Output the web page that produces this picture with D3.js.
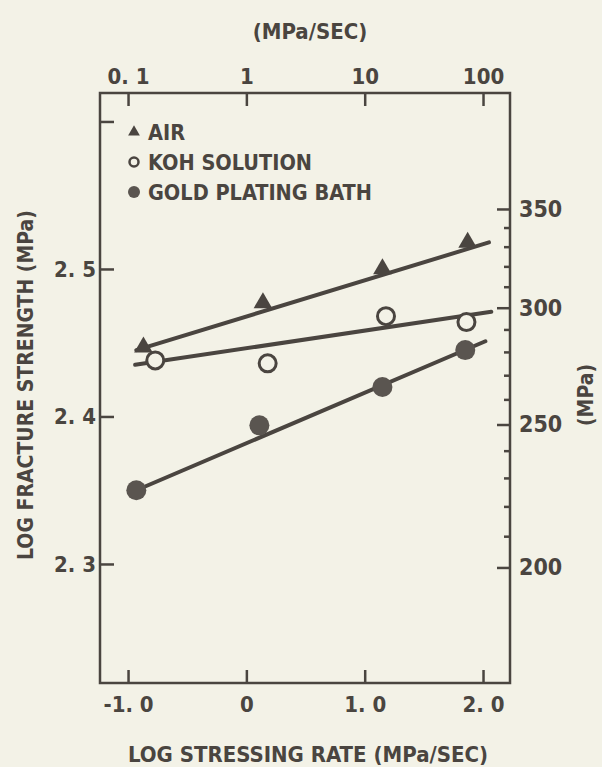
<!DOCTYPE html>
<html>
<head>
<meta charset="utf-8">
<script src="https://cdn.jsdelivr.net/npm/d3@7"></script>
<style>
  body { margin: 0; background: #f3f2e7; }
  svg text { font-family: "DejaVu Sans Condensed", "DejaVu Sans", sans-serif; font-weight: bold; font-stretch: condensed; fill: #4a4540; }
</style>
</head>
<body>
<div id="visual"></div>
<script>
// log stressing rate (MPa/sec) and log fracture strength (MPa)
const airX = [-0.87, 0.14, 1.15, 1.87];
const airY = [2.447, 2.477, 2.500, 2.518];
const kohX = [-0.77, 0.18, 1.18, 1.86];
const kohY = [2.438, 2.436, 2.468, 2.464];
const goldX = [-0.93, 0.11, 1.15, 1.85];
const goldY = [2.350, 2.394, 2.420, 2.445];

// fitted straight lines (end points)
const airFitX = [-0.93, 2.05];
const airFitY = [2.445, 2.518];
const kohFitX = [-0.94, 2.07];
const kohFitY = [2.435, 2.471];
const goldFitX = [-0.93, 2.02];
const goldFitY = [2.350, 2.451];

const legendLabels = ["AIR", "KOH SOLUTION", "GOLD PLATING BATH"];

const bottomTicks = [-1, 0, 1, 2];
const bottomLabels = ["-1. 0", "0", "1. 0", "2. 0"];
const topTicks = [0.1, 1, 10, 100];
const topLabels = ["0. 1", "1", "10", "100"];
const leftTicks = [2.3, 2.4, 2.5, 2.6];
const leftLabels = ["2. 3", "2. 4", "2. 5", ""];
const rightTicks = d3.range(200, 351, 10);
const rightMajor = [200, 250, 300, 350];

const ink = "#4a4540";

const W = 602, H = 767;
const margin = { top: 93, right: 92, bottom: 84, left: 100 };
const width = W - margin.left - margin.right;
const height = H - margin.top - margin.bottom;

const svg = d3.select("#visual")
    .append("svg")
    .attr("width", W)
    .attr("height", H)
    .style("background", "#f3f2e7");

const g = svg.append("g")
    .attr("transform", "translate(" + margin.left + "," + margin.top + ")");

// scales
const xDomain = [-1.237, 2.228];
const yDomain = [2.2193, 2.6193];
const x = d3.scaleLinear().domain(xDomain).range([0, width]);
const y = d3.scaleLinear().domain(yDomain).range([height, 0]);
const xTop = d3.scaleLog().domain(xDomain.map(d => Math.pow(10, d))).range([0, width]);
const yRight = d3.scaleLog().domain(yDomain.map(d => Math.pow(10, d))).range([height, 0]);

// frame
g.append("rect")
    .attr("width", width)
    .attr("height", height)
    .attr("fill", "none")
    .attr("stroke", ink)
    .attr("stroke-width", 2.5);

function styleAxis(sel) {
    sel.select(".domain").remove();
    sel.selectAll(".tick line").attr("stroke", ink).attr("stroke-width", 2.5);
    sel.selectAll(".tick text").attr("font-size", 22);
}

// bottom axis
g.append("g")
    .attr("transform", "translate(0," + height + ")")
    .call(d3.axisBottom(x).tickValues(bottomTicks).tickSizeInner(-13).tickSizeOuter(0)
        .tickPadding(13).tickFormat((d, i) => bottomLabels[i]))
    .call(styleAxis);

// top axis
g.append("g")
    .call(d3.axisTop(xTop).tickValues(topTicks).tickSizeInner(-13).tickSizeOuter(0)
        .tickPadding(9).tickFormat((d, i) => topLabels[i]))
    .call(styleAxis);

// left axis
g.append("g")
    .call(d3.axisLeft(y).tickValues(leftTicks).tickSizeInner(-14).tickSizeOuter(0)
        .tickPadding(4).tickFormat((d, i) => leftLabels[i]))
    .call(styleAxis);

// right axis (MPa), log scale
const right = g.append("g")
    .attr("transform", "translate(" + width + ",5)")
    .call(d3.axisRight(yRight).tickValues(rightTicks).tickSizeInner(-6).tickSizeOuter(0)
        .tickPadding(9).tickFormat(d => rightMajor.includes(d) ? d : ""))
    .call(styleAxis);
right.selectAll(".tick text").attr("font-size", 23);
right.selectAll(".tick")
    .filter(d => rightMajor.includes(d))
    .select("line")
    .attr("x2", -13);

// axis titles
svg.append("text")
    .attr("x", 308).attr("y", 762)
    .attr("text-anchor", "middle")
    .attr("font-size", 22)
    .text("LOG STRESSING RATE (MPa/SEC)");

svg.append("text")
    .attr("x", 310).attr("y", 39)
    .attr("text-anchor", "middle")
    .attr("font-size", 22)
    .text("(MPa/SEC)");

svg.append("text")
    .attr("transform", "translate(33,385) rotate(-90)")
    .attr("text-anchor", "middle")
    .attr("font-size", 21)
    .text("LOG FRACTURE STRENGTH (MPa)");

svg.append("text")
    .attr("transform", "translate(593,395) rotate(-90)")
    .attr("text-anchor", "middle")
    .attr("font-size", 21)
    .text("(MPa)");

// fitted lines
const line = d3.line().x(d => x(d[0])).y(d => y(d[1]));
[[airFitX, airFitY], [kohFitX, kohFitY], [goldFitX, goldFitY]].forEach(([fx, fy]) => {
    g.append("path")
        .datum(d3.zip(fx, fy))
        .attr("fill", "none")
        .attr("stroke", ink)
        .attr("stroke-width", 4)
        .attr("stroke-linecap", "round")
        .attr("d", line);
});

// points
const tri = d3.symbol().type(d3.symbolTriangle).size(150);
g.selectAll(".air")
    .data(d3.zip(airX, airY))
    .join("path")
    .attr("transform", d => "translate(" + x(d[0]) + "," + y(d[1]) + ")")
    .attr("d", tri)
    .attr("fill", ink);

g.selectAll(".koh")
    .data(d3.zip(kohX, kohY))
    .join("circle")
    .attr("cx", d => x(d[0]))
    .attr("cy", d => y(d[1]))
    .attr("r", 8.5)
    .attr("fill", "#f3f2e7")
    .attr("stroke", ink)
    .attr("stroke-width", 3);

g.selectAll(".gold")
    .data(d3.zip(goldX, goldY))
    .join("circle")
    .attr("cx", d => x(d[0]))
    .attr("cy", d => y(d[1]))
    .attr("r", 10)
    .attr("fill", "#5a5550");

// legend
const legend = svg.append("g").attr("transform", "translate(134,132)");
legendLabels.forEach((lab, i) => {
    const row = legend.append("g").attr("transform", "translate(0," + (i * 30) + ")");
    if (i === 0) {
        row.append("path").attr("d", d3.symbol().type(d3.symbolTriangle).size(60)).attr("fill", ink);
    } else if (i === 1) {
        row.append("circle").attr("r", 4.5).attr("fill", "none").attr("stroke", ink).attr("stroke-width", 2.5);
    } else {
        row.append("circle").attr("r", 6).attr("fill", "#5a5550");
    }
    row.append("text")
        .attr("x", 14)
        .attr("y", 8)
        .attr("font-size", 21.5)
        .text(lab);
});
</script>
</body>
</html>
